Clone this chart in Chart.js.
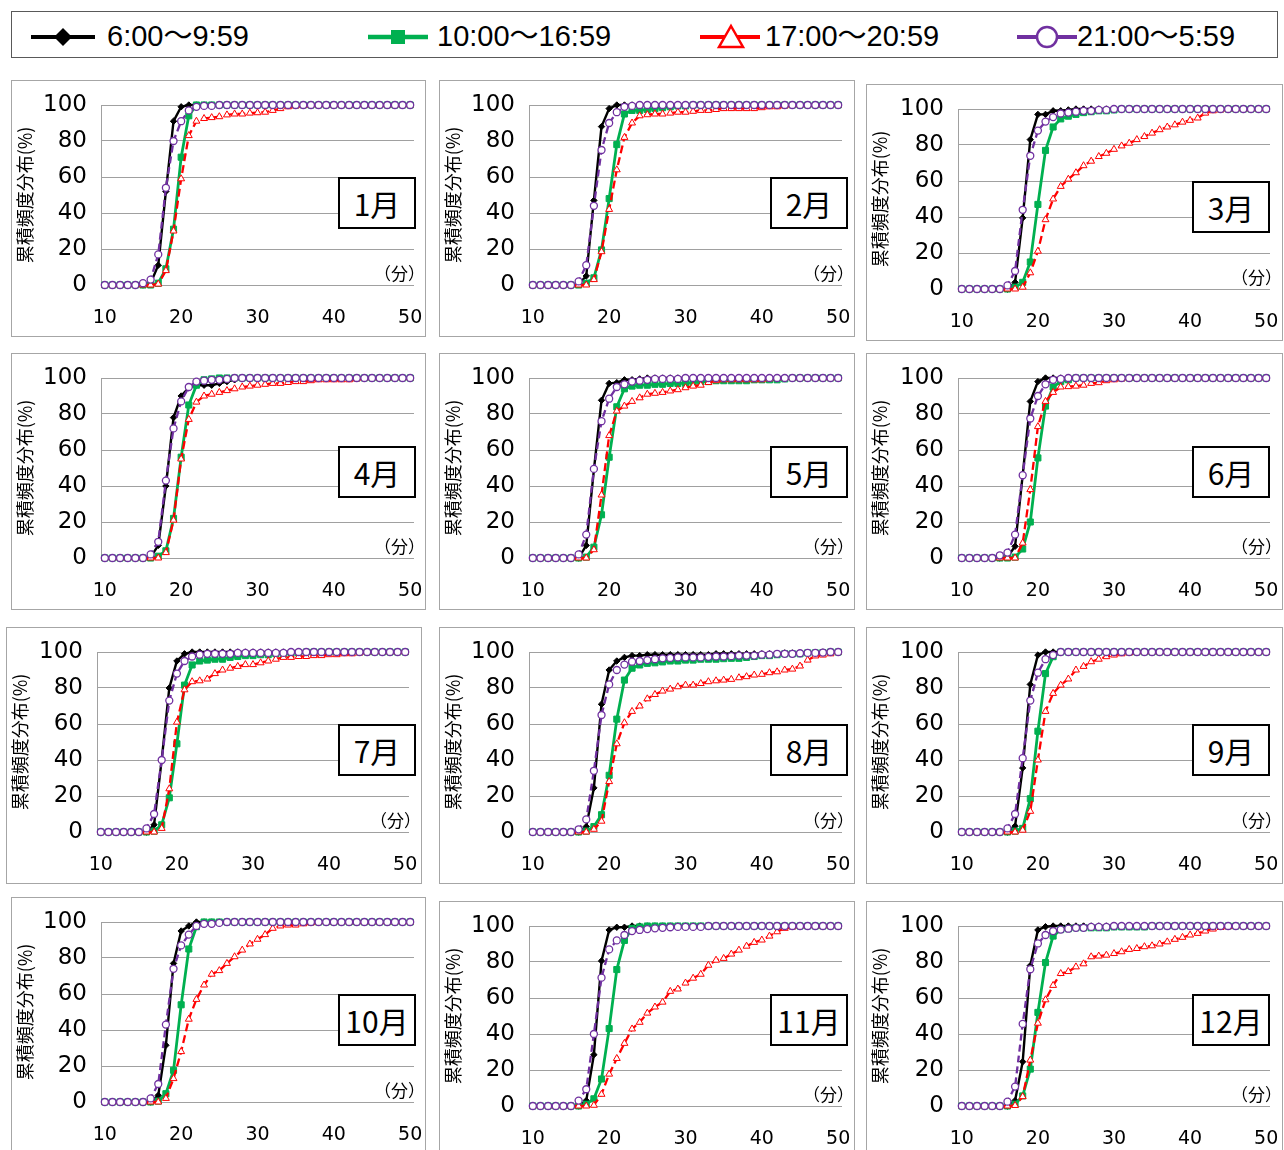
<!DOCTYPE html>
<html><head><meta charset="utf-8">
<script src="https://cdn.jsdelivr.net/npm/chart.js@4.4.1/dist/chart.umd.min.js"></script>
<style>
html,body{margin:0;padding:0;background:#fff;overflow:hidden;width:1284px;height:1150px;position:relative;}
.panel{position:absolute;box-sizing:border-box;border:1px solid #a6a6a6;background:#fff;}
.panel canvas{position:absolute;left:0;top:0;}
.mbox{position:absolute;box-sizing:border-box;border:2px solid #000;background:#fff;font-family:"Noto Sans CJK JP";font-size:30px;display:flex;align-items:center;justify-content:center;line-height:1;color:#000;}
.unit{position:absolute;font-family:"Noto Sans CJK JP";font-size:17px;line-height:1;color:#000;white-space:nowrap;}
#legendbox{position:absolute;left:11px;top:11px;width:1267px;height:47px;box-sizing:border-box;border:1px solid #595959;}
.lt{position:absolute;top:20px;height:32px;line-height:32px;font-family:"Liberation Sans","Noto Sans CJK JP";font-size:29px;color:#000;white-space:nowrap;}
.ls{position:absolute;}
</style></head><body>
<div id="legendbox"></div>
<svg class="ls" style="left:31px;top:22px" width="66" height="30"><line x1="0" y1="15" x2="64" y2="15" stroke="#000" stroke-width="4"/><polygon points="32,6 41,15 32,24 23,15" fill="#000"/></svg>
<span class="lt" style="left:107px">6:00～9:59</span>
<svg class="ls" style="left:368px;top:22px" width="62" height="30"><line x1="0" y1="15" x2="60" y2="15" stroke="#00B050" stroke-width="4.5"/><rect x="23" y="8" width="14" height="14" fill="#00B050"/></svg>
<span class="lt" style="left:437px">10:00～16:59</span>
<svg class="ls" style="left:700px;top:22px" width="62" height="30"><line x1="0" y1="15" x2="60" y2="15" stroke="#FF0000" stroke-width="4"/><polygon points="31,4 43,25 19,25" fill="#fff" stroke="#FF0000" stroke-width="2.5"/></svg>
<span class="lt" style="left:765px">17:00～20:59</span>
<svg class="ls" style="left:1017px;top:22px" width="62" height="30"><line x1="0" y1="15" x2="60" y2="15" stroke="#7030A0" stroke-width="4"/><circle cx="30" cy="15" r="10" fill="#fff" stroke="#7030A0" stroke-width="2.5"/></svg>
<span class="lt" style="left:1077px">21:00～5:59</span>
<div id="root"></div>
<script>
// ---- categories / tick labels ----
const minutes = [10,11,12,13,14,15,16,17,18,19,20,21,22,23,24,25,26,27,28,29,30,31,32,33,34,35,36,37,38,39,40,41,42,43,44,45,46,47,48,49,50];
const seriesNames = ['6:00～9:59','10:00～16:59','17:00～20:59','21:00～5:59'];
const monthNames = ['1月','2月','3月','4月','5月','6月','7月','8月','9月','10月','11月','12月'];
const yTitle = '累積頻度分布(%)';
const unitLabel = '（分）';

// ---- series values (minute 10..50) ----
const am01 = [0,0,0,0,0,0,1, 11,52,91,99,100,100,
  100,100,100,100,100,100,100,100,
  100,100,100,100,100,100,100,100,100,100,
  100,100,100,100,100,100,100,100,100,100];
const day01 = [0,0,0,0,0,0,0, 1,9,31,71,94,100,
  100,100,100,100,100,100,100,100,
  100,100,100,100,100,100,100,100,100,100,
  100,100,100,100,100,100,100,100,100,100];
const eve01 = [0,0,0,0,0,0,0, 0.5,8,30,59,83,91,
  92.5,93,93.5,94.5,95,95,95.5,95.7,
  96,97,98,99,99.5,99.7,100,100,100,100,
  100,100,100,100,100,100,100,100,100,100];
const night01 = [0,0,0,0,0,1,3, 17,54,80,91,97,99,
  99.5,99.5,100,100,100,100,100,100,
  100,100,100,100,100,100,100,100,100,100,
  100,100,100,100,100,100,100,100,100,100];

const am02 = [0,0,0,0,0,0,0.5, 5,47,88,98,100,100,
  100,100,100,100,100,100,100,100,
  100,100,100,100,100,100,100,100,100,100,
  100,100,100,100,100,100,100,100,100,100];
const day02 = [0,0,0,0,0,0,0, 1,4,19.5,48,78,95,
  97,97,97.5,98,98.5,99,99.5,99.5,
  100,100,100,100,100,100,100,100,100,100,
  100,100,100,100,100,100,100,100,100,100];
const eve02 = [0,0,0,0,0,0,0, 0,3,18.5,42,64,82,
  90,94,94.6,95,95,95.5,96,96,
  96.5,97,97,97.5,98,98,98,98,98,98.5,
  99,99,99.5,100,100,100,100,100,100,100];
const night02 = [0,0,0,0,0,0,2, 11,44,75,90,96,99,
  99.5,100,100,100,100,100,100,100,
  100,100,100,100,100,100,100,100,100,100,
  100,100,100,100,100,100,100,100,100,100];

const am03 = [0,0,0,0,0,0,0, 3.7,39.5,83,97,97,99,
  99,99.5,100,100,100,100,100,100,
  100,100,100,100,100,100,100,100,100,100,
  100,100,100,100,100,100,100,100,100,100];
const day03 = [0,0,0,0,0,0,0, 1,3.7,15,47,77,90,
  94.5,96,97,98,98.5,99,99,99.5,
  100,100,100,100,100,100,100,100,100,100,
  100,100,100,100,100,100,100,100,100,100];
const eve03 = [0,0,0,0,0,0,0, 0,1,9,21,38.5,50,
  57,61,64.6,68.5,71,73.6,75.4,77.6,
  79.5,81,83,84.7,86.6,88.5,90,91.2,92.7,93.7,
  95,97.7,99,99.5,100,100,100,100,100,100];
const night03 = [0,0,0,0,0,0,2, 10,44,74,88,93,95.5,
  97.5,98,98.5,99,99,99.5,99.5,100,
  100,100,100,100,100,100,100,100,100,100,
  100,100,100,100,100,100,100,100,100,100];

const am04 = [0,0,0,0,0,0,0.5, 7,40,78,90,94.6,96,
  96,96,97,98,99,99.5,100,100,
  100,100,100,100,100,100,100,100,100,100,
  100,100,100,100,100,100,100,100,100,100];
const day04 = [0,0,0,0,0,0,0, 1,4,22,56,85,96,
  99,99.5,100,100,100,100,100,100,
  100,100,100,100,100,100,100,100,100,100,
  100,100,100,100,100,100,100,100,100,100];
const eve04 = [0,0,0,0,0,0,0, 0,3,21,55,77,86.6,
  90,91,92,93,94,95,95.5,96,
  96.5,97,97,97.5,98,98,98.5,99,99,99,
  99,99,99.5,100,100,100,100,100,100,100];
const night04 = [0,0,0,0,0,0,2, 9,43,72,87,95,98,
  98.5,99,99,99.5,100,100,100,100,
  100,100,100,100,100,100,100,100,100,100,
  100,100,100,100,100,100,100,100,100,100];

const am05 = [0,0,0,0,0,0,0, 7,49,87.6,97,97.4,99,
  99,99.5,100,100,100,100,100,100,
  100,100,100,100,100,100,100,100,100,100,
  100,100,100,100,100,100,100,100,100,100];
const day05 = [0,0,0,0,0,0,0, 0.5,6,24,56,84,94,
  95.5,96,96,96.5,96.5,97,97,97,
  97.5,98,98,98.5,98.5,98.5,98.5,98.5,99,99,
  99,99,99.5,100,100,100,100,100,100,100];
const eve05 = [0,0,0,0,0,0,0, 0,4.6,35,68,81.6,84.4,
  87,89,91,91.5,92,92.8,93.5,94.6,
  95.5,96,97.5,98.5,99,99,99,99,99,99,
  99.5,100,100,100,100,100,100,100,100,100];
const night05 = [0,0,0,0,0,0,2, 13,49.5,76,88.5,95,96.5,
  98,98.5,99,99.5,99.5,99.5,99.5,100,
  100,100,100,100,100,100,100,100,100,100,
  100,100,100,100,100,100,100,100,100,100];

const am06 = [0,0,0,0,0,0,0.5, 6.5,46,87,98,100,100,
  100,100,100,100,100,100,100,100,
  100,100,100,100,100,100,100,100,100,100,
  100,100,100,100,100,100,100,100,100,100];
const day06 = [0,0,0,0,0,0,0, 0.5,5,20,55.6,84.4,95,
  98,99,100,100,100,100,100,100,
  100,100,100,100,100,100,100,100,100,100,
  100,100,100,100,100,100,100,100,100,100];
const eve06 = [0,0,0,0,0,0,0, 0,8.3,38,73,87,92,
  95,95.2,95.5,96,97,97.4,98.5,99,
  99.5,100,100,100,100,100,100,100,100,100,
  100,100,100,100,100,100,100,100,100,100];
const night06 = [0,0,0,0,0,1.5,3, 13,46,77.5,90,96.5,99,
  99.5,100,100,100,100,100,100,100,
  100,100,100,100,100,100,100,100,100,100,
  100,100,100,100,100,100,100,100,100,100];

const am07 = [0,0,0,0,0,0,0, 4,40,80,95,99,100,
  100,100,100,100,100,100,100,100,
  100,100,100,100,100,100,100,100,100,100,
  100,100,100,100,100,100,100,100,100,100];
const day07 = [0,0,0,0,0,0,0, 0.5,4,19,49,81.6,92.8,
  95,95.5,96,96,97,97.5,98,98,
  98.5,98.5,99,99,99.5,99.5,100,100,100,100,
  100,100,100,100,100,100,100,100,100,100];
const eve07 = [0,0,0,0,0,0,0, 0,2,24,61,79,83.5,
  84,85,88,90,91,92,93,93,
  94,95,96,97,97,97.5,97.5,98,98,98.5,
  98.5,99,99,99.5,100,100,100,100,100,100];
const night07 = [0,0,0,0,0,0,2, 10,40,73,88,95,97.5,
  98.5,99,99,99,99,99.5,99.5,99.5,
  99.5,99.5,99.5,99.5,100,100,100,100,100,100,
  100,100,100,100,100,100,100,100,100,100];

const am08 = [0,0,0,0,0,0,0, 3,24.5,71,90,95,97,
  98,98,98.5,98.5,98.5,98.5,98.5,98.5,
  98.5,98.5,98.5,99,99,99,99,99,99,99,
  99,99,99.5,99.5,99.5,99.5,99.5,100,100,100];
const day08 = [0,0,0,0,0,0,0, 0.5,3,9.6,31.5,62.7,84.4,
  91,92.8,93.7,94,94.5,95,95,95.5,
  95.5,96,96,96,96.3,96.5,96.5,97,97.5,98,
  98,98.5,99,99,99,99.5,99.5,99.7,100,100];
const eve08 = [0,0,0,0,0,0,0, 0,1.5,6,28,49,60.7,
  67,70,74,76.4,78.3,79.4,80.7,81.6,
  81.6,82.5,83.5,84,84.4,84.8,85.7,86.3,87.2,87.6,
  88.5,89,90,90.5,92.2,95.5,97.8,98.3,99,100];
const night08 = [0,0,0,0,0,0,1.5, 7,34,65,82,90,93,
  94.6,95,95.5,96,96.5,96.7,97,97,
  97,97,97.3,97.5,97.5,97.7,98,98,98,98.5,
  98.5,99,99,99,99.3,99.5,99.5,99.7,100,100];

const am09 = [0,0,0,0,0,0,0, 3.3,35.6,82,98.3,100,100,
  100,100,100,100,100,100,100,100,
  100,100,100,100,100,100,100,100,100,100,
  100,100,100,100,100,100,100,100,100,100];
const day09 = [0,0,0,0,0,0,0, 0.5,2,18.5,56,88,97.4,
  100,100,100,100,100,100,100,100,
  100,100,100,100,100,100,100,100,100,100,
  100,100,100,100,100,100,100,100,100,100];
const eve09 = [0,0,0,0,0,0,0, 0,1,11.5,40,67,77,
  81.6,85,90,92,94.6,96,97.4,98.3,
  99,99.5,100,100,100,100,100,100,100,100,
  100,100,100,100,100,100,100,100,100,100];
const night09 = [0,0,0,0,0,0,2, 10,41,73,88.5,96,98.3,
  100,100,100,100,100,100,100,100,
  100,100,100,100,100,100,100,100,100,100,
  100,100,100,100,100,100,100,100,100,100];

const am10 = [0,0,0,0,0,0,0, 3.7,31.5,77,95,97.8,100,
  100,100,100,100,100,100,100,100,
  100,100,100,100,100,100,100,100,100,100,
  100,100,100,100,100,100,100,100,100,100];
const day10 = [0,0,0,0,0,0,0, 0.5,4.6,17.6,54,85,97.4,
  100,100,100,100,100,100,100,100,
  100,100,100,100,100,100,100,100,100,100,
  100,100,100,100,100,100,100,100,100,100];
const eve10 = [0,0,0,0,0,0,0, 0,2,13,28,46,57,
  65,71,73,77,80.7,84.4,87.8,90.4,
  93,96.5,97.8,98.3,98.3,99,99.5,100,100,100,
  100,100,100,100,100,100,100,100,100,100];
const night10 = [0,0,0,0,0,0,2, 10,43,74,87,93,97.8,
  99,99,99.5,100,100,100,100,100,
  100,100,100,100,100,100,100,100,100,100,
  100,100,100,100,100,100,100,100,100,100];

const am11 = [0,0,0,0,0,0,0, 3,28.5,80.6,97.8,99.3,99.3,
  100,100,100,100,100,100,100,100,
  100,100,100,100,100,100,100,100,100,100,
  100,100,100,100,100,100,100,100,100,100];
const day11 = [0,0,0,0,0,0,0, 1,4,15,43,75.8,92,
  98.7,99.5,100,100,100,100,100,100,
  100,100,100,100,100,100,100,100,100,100,
  100,100,100,100,100,100,100,100,100,100];
const eve11 = [0,0,0,0,0,0,0, 0,0.4,6.5,17.7,26.4,34.8,
  42.8,46.5,51.6,55,57.7,63.7,65,68.3,
  71,73.2,78.2,81,82,84.4,86.6,88.8,90.9,92.2,
  94.4,96.8,98.7,99.5,100,100,100,100,100,100];
const night11 = [0,0,0,0,0,0,3, 9.3,40,71.3,87,92,95,
  97.2,97.8,98.3,98.7,99,99.3,99.5,99.5,
  99.5,99.5,100,100,100,100,100,100,100,100,
  100,100,100,100,100,100,100,100,100,100];

const am12 = [0,0,0,0,0,0,0, 3,24.6,78,97.8,99.6,100,
  100,100,100,100,100,100,100,100,
  100,100,100,100,100,100,100,100,100,100,
  100,100,100,100,100,100,100,100,100,100];
const day12 = [0,0,0,0,0,0,0, 1,5.6,20.5,52,79.7,94.4,
  98,98.5,99,99,99,99,99,99.5,
  99.5,99.5,99.5,99.5,100,100,100,100,100,100,
  100,100,100,100,100,100,100,100,100,100];
const eve12 = [0,0,0,0,0,0,0, 0.3,5.2,25.5,46,59,67,
  73.6,74.7,77.3,79,82.9,83.3,83.8,84.7,
  85.7,87,87.5,88.5,89,90,91.2,92.6,93.7,95,
  95.9,97.2,98.3,99.2,99.6,100,100,100,100,100];
const night12 = [0,0,0,0,0,0,2.4, 10.8,45.6,76,90.3,95,97.2,
  98,98.5,99,99,99.5,99.5,99.5,100,
  100,100,100,100,100,100,100,100,100,100,
  100,100,100,100,100,100,100,100,100,100];

const monthSeries = [
  [am01,day01,eve01,night01],[am02,day02,eve02,night02],[am03,day03,eve03,night03],
  [am04,day04,eve04,night04],[am05,day05,eve05,night05],[am06,day06,eve06,night06],
  [am07,day07,eve07,night07],[am08,day08,eve08,night08],[am09,day09,eve09,night09],
  [am10,day10,eve10,night10],[am11,day11,eve11,night11],[am12,day12,eve12,night12]
];

// ---- layout (page positions of panels) ----
const layout = [
  {x:11, y:80, w:415, pl:89, pr:11, bx:327, by:97},
  {x:439,y:80, w:416, pl:89, pr:12, bx:331, by:97},
  {x:866,y:84, w:417, pl:91, pr:12, bx:326, by:97},
  {x:11, y:353,w:415, pl:89, pr:11, bx:327, by:93},
  {x:439,y:353,w:416, pl:89, pr:12, bx:331, by:93},
  {x:866,y:353,w:417, pl:91, pr:12, bx:326, by:93},
  {x:6,  y:627,w:416, pl:90, pr:12, bx:332, by:97},
  {x:439,y:627,w:416, pl:89, pr:12, bx:331, by:97},
  {x:866,y:627,w:417, pl:91, pr:12, bx:326, by:97},
  {x:11, y:897,w:415, pl:89, pr:11, bx:327, by:97},
  {x:439,y:901,w:416, pl:89, pr:12, bx:331, by:93},
  {x:866,y:901,w:417, pl:91, pr:12, bx:326, by:93}
];
const PANEL_H = 257;

const styles = [
  {borderColor:'#000000', backgroundColor:'#000000', borderWidth:2.4, pointStyle:'rectRot', pointRadius:3.2,
   pointBackgroundColor:'#000000', pointBorderColor:'#000000', pointBorderWidth:1, order:4},
  {borderColor:'#00B050', backgroundColor:'#00B050', borderWidth:2.8, pointStyle:'rect', pointRadius:4.3,
   pointBackgroundColor:'#00B050', pointBorderColor:'#00B050', pointBorderWidth:1, order:3},
  {borderColor:'#FF0000', backgroundColor:'#FF0000', borderWidth:2.3, borderDash:[8,4], pointStyle:'triangle', pointRadius:4,
   pointBackgroundColor:'#FFFFFF', pointBorderColor:'#FF0000', pointBorderWidth:1, order:2},
  {borderColor:'#7030A0', backgroundColor:'#7030A0', borderWidth:2.3, borderDash:[7,4], pointStyle:'circle', pointRadius:3.5,
   pointBackgroundColor:'#FFFFFF', pointBorderColor:'#7030A0', pointBorderWidth:1.3, order:1}
];

const root = document.getElementById('root');
layout.forEach((L, i) => {
  const div = document.createElement('div');
  div.className = 'panel';
  div.style.left = L.x + 'px'; div.style.top = L.y + 'px';
  div.style.width = L.w + 'px'; div.style.height = PANEL_H + 'px';
  const W = L.w - 2, H = PANEL_H - 2;
  const cv = document.createElement('canvas');
  cv.width = W; cv.height = H;
  cv.style.width = W + 'px'; cv.style.height = H + 'px';
  div.appendChild(cv);
  const mb = document.createElement('div');
  mb.className = 'mbox';
  mb.style.left = (L.bx - 1) + 'px'; mb.style.top = (L.by - 1) + 'px';
  mb.style.width = '78px'; mb.style.height = '52px';
  mb.textContent = monthNames[i];
  div.appendChild(mb);
  const u = document.createElement('div');
  u.className = 'unit';
  u.style.left = (L.w - 53) + 'px'; u.style.top = '183px';
  u.textContent = unitLabel;
  div.appendChild(u);
  root.appendChild(div);

  const datasets = monthSeries[i].map((d, k) => Object.assign({
    label: seriesNames[k], data: d, tension: 0, fill: false, clip: false
  }, styles[k]));

  new Chart(cv, {
    type: 'line',
    data: {labels: minutes, datasets},
    options: {
      responsive: false, animation: false, events: [],
      layout: {padding: {top: 24, right: L.pr, bottom: 0, left: 0}},
      plugins: {legend: {display: false}, tooltip: {enabled: false}, title: {display: false}},
      scales: {
        x: {
          type: 'category', offset: true,
          grid: {display: false, drawTicks: false},
          border: {display: false},
          ticks: {autoSkip: false, maxRotation: 0, minRotation: 0, padding: 22, color: '#000',
                  font: {family: 'DejaVu Sans', size: 19},
                  callback: (v, idx) => (minutes[idx] % 10 === 0 ? String(minutes[idx]) : '')},
          afterFit: (s) => { s.height = H - 204; s.paddingLeft = 0; s.paddingRight = 0; }
        },
        y: {
          min: 0, max: 100,
          ticks: {stepSize: 20, padding: 14, color: '#000', font: {family: 'DejaVu Sans', size: 23}},
          grid: {color: '#a0a0a0', lineWidth: 1, drawTicks: false},
          border: {display: true, color: '#a0a0a0', width: 1},
          title: {display: true, text: yTitle, color: '#000',
                  font: {family: 'Noto Sans CJK JP', size: 18}, padding: {top: 2, bottom: 0}},
          afterFit: (s) => { s.width = L.pl; s.paddingTop = 0; s.paddingBottom = 0; }
        }
      }
    }
  });
});
</script>
</body></html>
